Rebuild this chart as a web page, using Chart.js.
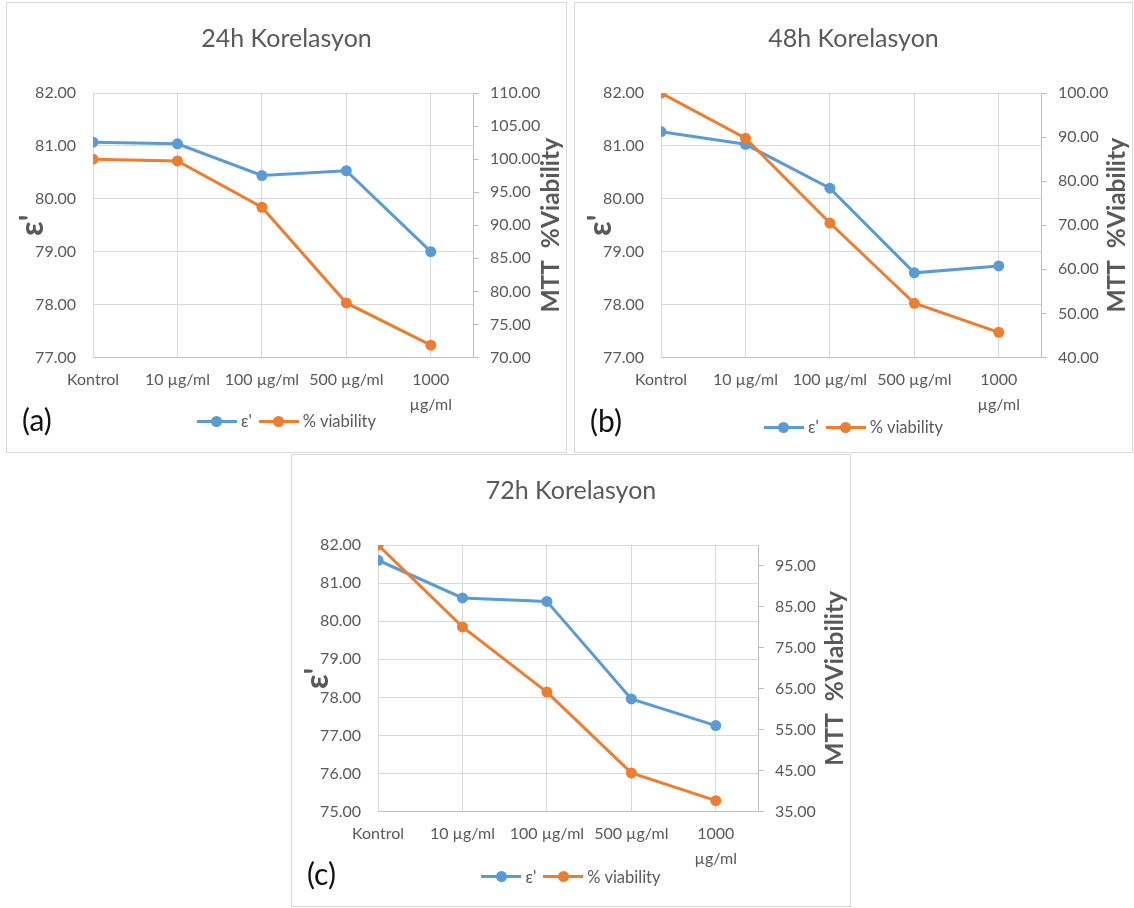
<!DOCTYPE html>
<html>
<head>
<meta charset="utf-8">
<title>Korelasyon</title>
<script src="https://cdn.jsdelivr.net/npm/chart.js@4.4.1/dist/chart.umd.min.js"></script>
<style>
  body { margin: 0; background: #fff; }
  .panel { position: absolute; border: 1px solid #d9d9d9; background: #fff; }
  .panel canvas { display: block; }
  .legend {
    position: absolute; left: 0; right: 0; height: 18px;
    display: flex; justify-content: center; align-items: center;
    font: 16.5px Lato, sans-serif; color: #595959; white-space: pre;
  }
  .legend .item { display: flex; align-items: center; }
  .legend .item + .item { margin-left: 7px; }
  .legend .swatch { position: relative; width: 40px; height: 3px; margin-right: 4px; }
  .legend .dot {
    position: absolute; left: 14.5px; top: -4px;
    width: 11px; height: 11px; border-radius: 50%;
  }
</style>
</head>
<body>
<div class="panel" style="left:6px; top:2px;"><canvas id="chart24" width="559" height="449"></canvas></div>
<div class="panel" style="left:574px; top:2px;"><canvas id="chart48" width="557" height="449"></canvas></div>
<div class="panel" style="left:291px; top:454px;"><canvas id="chart72" width="558" height="451"></canvas></div>
<script>
const categories = ['Kontrol', '10 µg/ml', '100 µg/ml', '500 µg/ml', ['1000', 'µg/ml']];

// 24h
const eps24 = [81.07, 81.04, 80.44, 80.53, 79.00];
const viability24 = [100.00, 99.72, 92.72, 78.25, 71.86];
const epsTicks24 = [77, 78, 79, 80, 81, 82];
const viabilityTicks24 = [70, 75, 80, 85, 90, 95, 100, 105, 110];

// 48h
const eps48 = [81.27, 81.03, 80.20, 78.60, 78.73];
const viability48 = [100.00, 89.73, 70.50, 52.30, 45.70];
const epsTicks48 = [77, 78, 79, 80, 81, 82];
const viabilityTicks48 = [40, 50, 60, 70, 80, 90, 100];

// 72h
const eps72 = [81.60, 80.61, 80.52, 77.96, 77.26];
const viability72 = [100.00, 80.03, 64.16, 44.45, 37.69];
const epsTicks72 = [75, 76, 77, 78, 79, 80, 81, 82];
const viabilityTicks72 = [35, 45, 55, 65, 75, 85, 95];
const viabilityMax72 = 100;

const BLUE = '#5b9bd5';
const ORANGE = '#ed7d31';
const TEXT = '#595959';
const GRID = '#d9d9d9';
const AXIS = '#bfbfbf';

Chart.defaults.font.family = 'Lato';
Chart.defaults.color = TEXT;

// right axis title reads bottom-to-top, plus the (a)/(b)/(c) tag
const sideText = {
    id: 'sideText',
    afterDraw(chart, args, opts) {
        const { ctx, chartArea, width } = chart;
        ctx.save();
        ctx.fillStyle = TEXT;
        ctx.font = 'bold 24.5px Lato';
        ctx.textAlign = 'center';
        ctx.textBaseline = 'middle';
        ctx.translate(width - 15, (chartArea.top + chartArea.bottom) / 2);
        ctx.rotate(-Math.PI / 2);
        ctx.fillText(opts.text, 0, 0);
        ctx.restore();

        ctx.save();
        ctx.fillStyle = '#111';
        ctx.font = '30px Lato';
        ctx.textAlign = 'left';
        ctx.textBaseline = 'middle';
        ctx.fillText(opts.tag, 15, opts.tagY);
        ctx.restore();
    }
};

// legend under the plot: line with a dot, then the series name
function addLegend(chart, centerY) {
    const box = document.createElement('div');
    box.className = 'legend';
    box.style.top = (centerY - 9) + 'px';
    chart.data.datasets.forEach(ds => {
        const item = document.createElement('div');
        item.className = 'item';
        const swatch = document.createElement('span');
        swatch.className = 'swatch';
        swatch.style.background = ds.borderColor;
        const dot = document.createElement('span');
        dot.className = 'dot';
        dot.style.background = ds.borderColor;
        swatch.appendChild(dot);
        const label = document.createElement('span');
        label.textContent = ds.label;
        item.append(swatch, label);
        box.appendChild(item);
    });
    chart.canvas.parentNode.appendChild(box);
}

const toPoints = values => values.map((v, i) => ({ x: i, y: v }));
const setTicks = values => axis => { axis.ticks = values.map(v => ({ value: v })); };

function drawPanel(id, title, tag, eps, viability, epsTicks, viabilityTicks, viabilityMax, fit) {
    const canvas = document.getElementById(id);
    const chart = new Chart(canvas, {
        type: 'line',
        data: {
            datasets: [
                {
                    label: "ε'",
                    data: toPoints(eps),
                    yAxisID: 'y',
                    borderColor: BLUE,
                    backgroundColor: BLUE,
                    order: 1
                },
                {
                    label: '% viability',
                    data: toPoints(viability),
                    yAxisID: 'y1',
                    borderColor: ORANGE,
                    backgroundColor: ORANGE,
                    order: 0
                }
            ]
        },
        options: {
            responsive: false,
            animation: false,
            events: [],
            layout: { padding: 0 },
            elements: {
                line: { borderWidth: 3, tension: 0 },
                point: { radius: 5.5, borderWidth: 0 }
            },
            scales: {
                x: {
                    type: 'linear',
                    min: 0,
                    max: categories.length - 0.5,
                    afterBuildTicks: setTicks(categories.map((c, i) => i)),
                    afterFit: s => { s.height = canvas.height - fit.plotBottom; },
                    ticks: {
                        callback: v => categories[v],
                        maxRotation: 0,
                        autoSkip: false,
                        padding: 10,
                        font: { size: 16, lineHeight: 1.55 }
                    },
                    grid: { color: GRID, drawTicks: false },
                    border: { color: AXIS }
                },
                y: {
                    position: 'left',
                    min: epsTicks[0],
                    max: epsTicks[epsTicks.length - 1],
                    afterBuildTicks: setTicks(epsTicks),
                    afterFit: s => { s.width = 86; },
                    ticks: {
                        callback: v => v.toFixed(2),
                        padding: 17,
                        font: { size: 16 }
                    },
                    grid: { color: GRID, drawTicks: false },
                    border: { color: GRID },
                    title: {
                        display: true,
                        text: "ε'",
                        font: { size: 32, weight: 'bold' },
                        padding: { top: 6, bottom: 0 }
                    }
                },
                y1: {
                    position: 'right',
                    min: viabilityTicks[0],
                    max: viabilityMax,
                    afterBuildTicks: setTicks(viabilityTicks),
                    afterFit: s => { s.width = canvas.width - 86 - 380; },
                    ticks: {
                        callback: v => v.toFixed(2),
                        padding: 11,
                        font: { size: 16 }
                    },
                    grid: { drawOnChartArea: false, color: AXIS, tickLength: 6 },
                    border: { color: AXIS }
                }
            },
            plugins: {
                title: {
                    display: true,
                    text: title,
                    color: TEXT,
                    font: { size: 25, weight: 'normal' },
                    padding: { top: 21, bottom: 39 }
                },
                legend: { display: false },
                tooltip: { enabled: false },
                sideText: { text: 'MTT  %Viability', tag: tag, tagY: fit.tagY }
            }
        },
        plugins: [sideText]
    });
    addLegend(chart, fit.legendY);
    return chart;
}

async function createCharts() {
    await Promise.all([document.fonts.load('16px Lato'), document.fonts.load('bold 22px Lato')]);

    drawPanel('chart24', '24h Korelasyon', '(a)', eps24, viability24,
        epsTicks24, viabilityTicks24, viabilityTicks24[viabilityTicks24.length - 1],
        { plotBottom: 354.5, legendY: 418, tagY: 418 });

    drawPanel('chart48', '48h Korelasyon', '(b)', eps48, viability48,
        epsTicks48, viabilityTicks48, viabilityTicks48[viabilityTicks48.length - 1],
        { plotBottom: 354.5, legendY: 424, tagY: 419 });

    drawPanel('chart72', '72h Korelasyon', '(c)', eps72, viability72,
        epsTicks72, viabilityTicks72, viabilityMax72,
        { plotBottom: 356.7, legendY: 421.5, tagY: 420 });
}

createCharts();
</script>
</body>
</html>
